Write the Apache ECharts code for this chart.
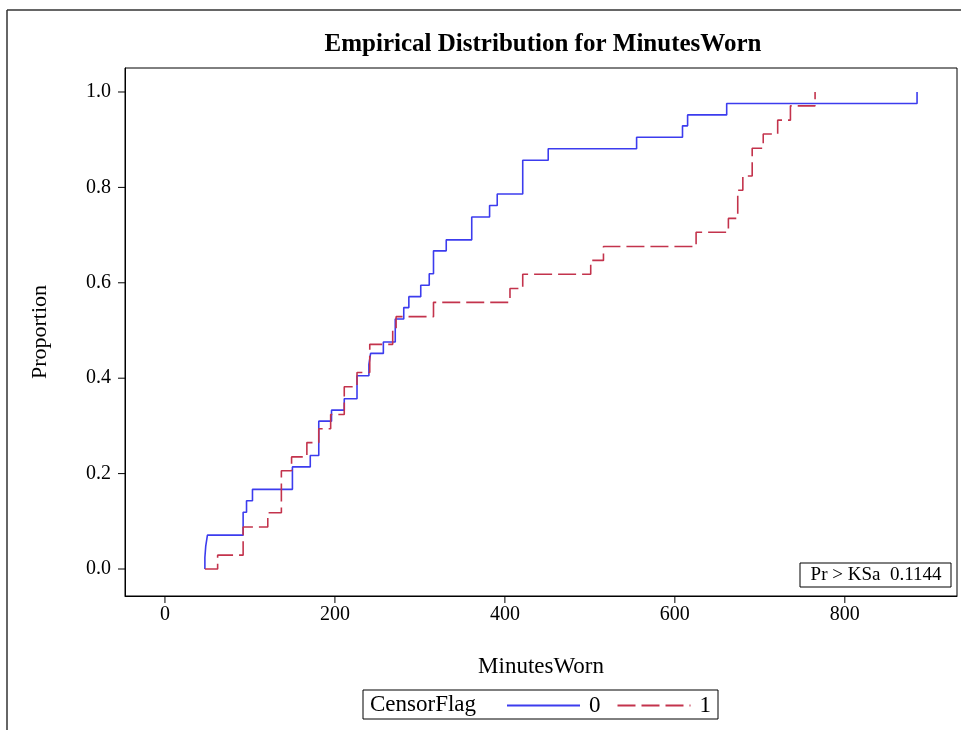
<!DOCTYPE html>
<html>
<head>
<meta charset="utf-8">
<script src="https://cdn.jsdelivr.net/npm/echarts@6/dist/echarts.min.js"></script>
<style>
  html, body { margin: 0; padding: 0; background: #fff; }
  #chart { width: 961px; height: 730px; }
</style>
</head>
<body>
<div id="chart"></div>
<script>
const font = "'Liberation Serif', 'Times New Roman', serif"

// 刻度
const xTicks = [0, 200, 400, 600, 800]
const yTicks = [0, 0.2, 0.4, 0.6, 0.8, 1.0]
const xRange = [-47, 932]
const yRange = [-0.0566, 1.0503]

// 两组的经验分布
const startMinutes = 47
const minutes0 = [47, 48, 50, 92, 96, 103, 150, 171, 181, 196, 211, 226, 240, 242, 257, 271, 281, 287, 301, 311, 316, 331, 361, 382, 391, 421, 451, 555, 609, 615, 661, 885]
const proportion0 = [0.024, 0.048, 0.071, 0.119, 0.143, 0.167, 0.214, 0.238, 0.310, 0.333, 0.357, 0.405, 0.429, 0.452, 0.476, 0.524, 0.548, 0.571, 0.595, 0.619, 0.667, 0.690, 0.738, 0.762, 0.786, 0.857, 0.881, 0.905, 0.929, 0.952, 0.976, 1.0]
const minutes1 = [62, 92, 121, 137, 149, 167, 181, 195, 211, 226, 241, 268, 272, 316, 406, 421, 501, 516, 625, 663, 674, 680, 691, 704, 721, 736, 765]
const proportion1 = [0.029, 0.088, 0.118, 0.206, 0.235, 0.265, 0.294, 0.324, 0.382, 0.412, 0.471, 0.500, 0.529, 0.559, 0.588, 0.618, 0.647, 0.676, 0.706, 0.735, 0.794, 0.824, 0.882, 0.912, 0.941, 0.971, 1.0]

const groupNames = ['0', '1']
const ksText = 'Pr > KSa  0.1144'

const toSteps = (xs, ys) => [[startMinutes, 0]].concat(xs.map((x, i) => [x, ys[i]]))

const chart = echarts.init(document.getElementById('chart'), null, { renderer: 'canvas' })

const axisLine = { show: true, onZero: false, lineStyle: { color: '#000', width: 1 } }
const tickLen = 7

// 轴在绘图区边上时 v6 不画外刻度，用 custom 系列按刻度值补画
const tickSeries = (values, horizontal) => ({
  type: 'custom',
  silent: true,
  clip: false,
  z: 10,
  data: values.map((v) => (horizontal ? [v, yRange[0]] : [xRange[0], v])),
  renderItem: (params, api) => {
    const p = api.coord([api.value(0), api.value(1)])
    const shape = horizontal
      ? { x1: p[0], y1: p[1], x2: p[0], y2: p[1] + tickLen }
      : { x1: p[0] - tickLen, y1: p[1], x2: p[0], y2: p[1] }
    return { type: 'line', shape, style: { stroke: '#000', lineWidth: 1 } }
  }
})

chart.setOption({
  backgroundColor: '#fff',
  animation: false,
  title: {
    text: 'Empirical Distribution for MinutesWorn',
    left: 538,
    textAlign: 'center',
    top: 27,
    textStyle: { fontFamily: font, fontSize: 25, fontWeight: 'bold', color: '#000' }
  },
  grid: {
    left: 125, right: 4, top: 68, bottom: 134,
    show: true, borderColor: '#000', borderWidth: 1
  },
  xAxis: {
    type: 'value',
    position: 'bottom',
    min: xRange[0], max: xRange[1],
    name: 'MinutesWorn',
    nameLocation: 'middle',
    nameGap: 59,
    nameTextStyle: { fontFamily: font, fontSize: 23, color: '#000' },
    axisLine,
    axisTick: { show: false },
    axisLabel: { customValues: xTicks, margin: 9, fontFamily: font, fontSize: 20, color: '#000' },
    splitLine: { show: false }
  },
  yAxis: {
    type: 'value',
    position: 'left',
    min: yRange[0], max: yRange[1],
    name: 'Proportion',
    nameLocation: 'middle',
    nameGap: 74,
    nameTextStyle: { fontFamily: font, fontSize: 22, color: '#000' },
    axisLine,
    axisTick: { show: false },
    axisLabel: { customValues: yTicks, margin: 14, fontFamily: font, fontSize: 20, color: '#000', formatter: (v) => v.toFixed(1) },
    splitLine: { show: false }
  },
  legend: {
    left: 501, top: 689,
    itemWidth: 73, itemHeight: 14, itemGap: 16,
    itemStyle: { opacity: 0 },
    textStyle: { fontFamily: font, fontSize: 23, color: '#000', padding: [0, 0, 0, 4] },
    data: groupNames
  },
  graphic: [
    // 外框
    { type: 'line', shape: { x1: 7, y1: 10, x2: 961, y2: 10 }, style: { stroke: '#333', lineWidth: 1.5 } },
    { type: 'line', shape: { x1: 7, y1: 10, x2: 7, y2: 730 }, style: { stroke: '#333', lineWidth: 1.5 } },
    // 图例框
    { type: 'rect', shape: { x: 363, y: 690, width: 355, height: 29 }, style: { fill: 'none', stroke: '#000', lineWidth: 1 } },
    { type: 'text', x: 370, y: 705, style: { text: 'CensorFlag', font: '23px ' + font, fill: '#000', verticalAlign: 'middle' } },
    // KS 检验
    { type: 'rect', shape: { x: 800, y: 563, width: 151, height: 24 }, style: { fill: '#fff', stroke: '#000', lineWidth: 1 } },
    { type: 'text', x: 876, y: 575, style: { text: ksText, font: '19px ' + font, fill: '#000', align: 'center', verticalAlign: 'middle' } }
  ],
  series: [
    {
      name: groupNames[0],
      type: 'line',
      step: 'end',
      symbol: 'none',
      showSymbol: false,
      color: '#3c3cee',
      lineStyle: { color: '#3c3cee', width: 1.6 },
      data: toSteps(minutes0, proportion0)
    },
    {
      name: groupNames[1],
      type: 'line',
      step: 'end',
      symbol: 'none',
      showSymbol: false,
      color: '#c3334c',
      lineStyle: { color: '#c3334c', width: 1.6, type: [18, 6] },
      data: toSteps(minutes1, proportion1)
    },
    tickSeries(xTicks, true),
    tickSeries(yTicks, false)
  ]
})
</script>
</body>
</html>
